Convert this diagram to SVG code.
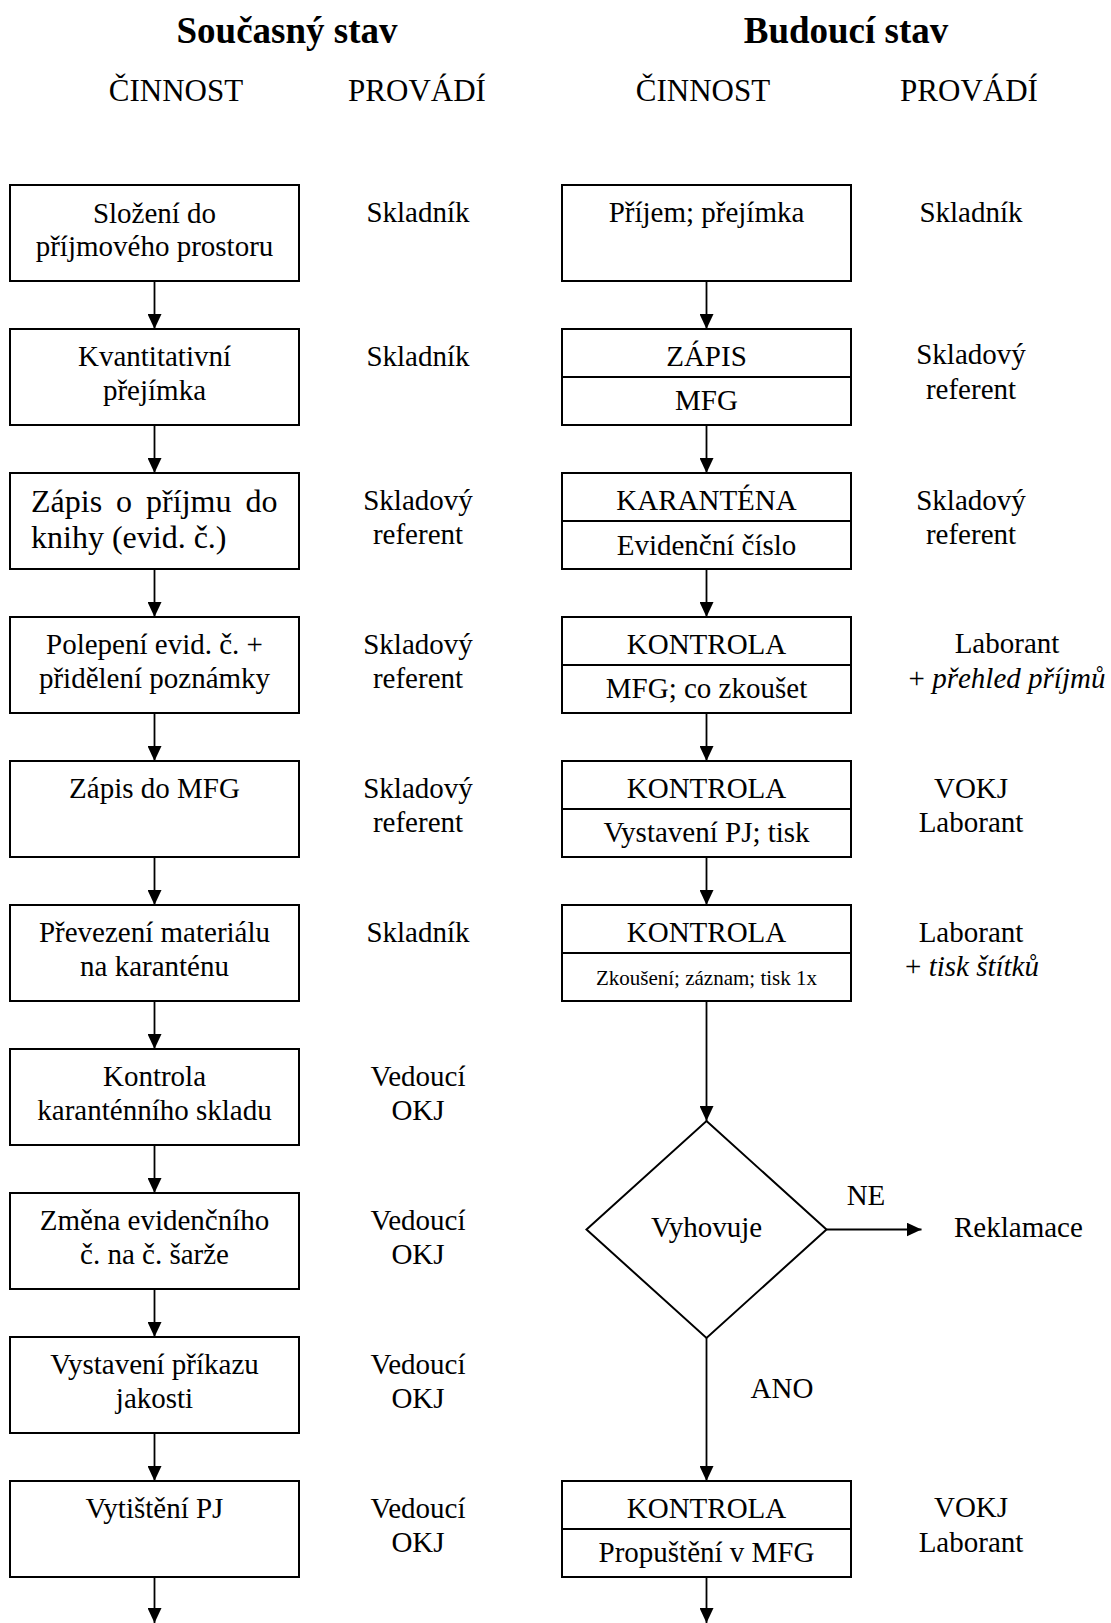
<svg xmlns="http://www.w3.org/2000/svg" width="1111" height="1623" viewBox="0 0 1111 1623">
  <style>
    text { font-family: "Liberation Serif", "Times New Roman", serif; font-size: 29px; fill: #000; }
    .c { text-anchor: middle; }
    .h1 { font-size: 37px; font-weight: bold; }
    .h2 { font-size: 31px; }
    .big { font-size: 32px; }
    .small { font-size: 21px; }
    .box { fill: #fff; stroke: #000; stroke-width: 2; }
    .div { stroke: #000; stroke-width: 2; }
    .link { fill: none; stroke: #000; stroke-width: 1.8; marker-end: url(#arrow); }
    .i { font-style: italic; }
  </style>
  <defs>
    <marker id="arrow" markerUnits="userSpaceOnUse" markerWidth="15" markerHeight="14" refX="15" refY="7" orient="auto">
      <path d="M0,0 L15,7 L0,14 z" fill="#000"/>
    </marker>
  </defs>
  <rect width="1111" height="1623" fill="#fff"/>

  <!-- column headings -->
  <g id="headings">
    <text class="c h1" x="287" y="43">Současný stav</text>
    <text class="c h1" x="846" y="43">Budoucí stav</text>
    <text class="c h2" x="176" y="101">ČINNOST</text>
    <text class="c h2" x="417" y="101">PROVÁDÍ</text>
    <text class="c h2" x="703" y="101">ČINNOST</text>
    <text class="c h2" x="969" y="101">PROVÁDÍ</text>
  </g>

  <!-- connectors -->
  <g id="connectors">
    <line class="link" x1="154.5" y1="281" x2="154.5" y2="329"/>
    <line class="link" x1="154.5" y1="425" x2="154.5" y2="473"/>
    <line class="link" x1="154.5" y1="569" x2="154.5" y2="617"/>
    <line class="link" x1="154.5" y1="713" x2="154.5" y2="761"/>
    <line class="link" x1="154.5" y1="857" x2="154.5" y2="905"/>
    <line class="link" x1="154.5" y1="1001" x2="154.5" y2="1049"/>
    <line class="link" x1="154.5" y1="1145" x2="154.5" y2="1193"/>
    <line class="link" x1="154.5" y1="1289" x2="154.5" y2="1337"/>
    <line class="link" x1="154.5" y1="1433" x2="154.5" y2="1481"/>
    <line class="link" x1="154.5" y1="1577" x2="154.5" y2="1623"/>

    <line class="link" x1="706.5" y1="281" x2="706.5" y2="329"/>
    <line class="link" x1="706.5" y1="425" x2="706.5" y2="473"/>
    <line class="link" x1="706.5" y1="569" x2="706.5" y2="617"/>
    <line class="link" x1="706.5" y1="713" x2="706.5" y2="761"/>
    <line class="link" x1="706.5" y1="857" x2="706.5" y2="905"/>
    <line class="link" x1="706.5" y1="1001" x2="706.5" y2="1121"/>
    <line class="link" x1="706.5" y1="1338" x2="706.5" y2="1481"/>
    <line class="link" x1="706.5" y1="1577" x2="706.5" y2="1623"/>
    <line class="link" x1="826.5" y1="1229.5" x2="921.5" y2="1229.5"/>
    <text class="c" x="866" y="1205">NE</text>
    <text class="c" x="782" y="1398">ANO</text>
  </g>

  <!-- current state: activities -->
  <g id="cur-1"><rect class="box" x="10" y="185" width="289" height="96"/>
    <text class="c" x="154.5" y="223">Složení do</text><text class="c" x="154.5" y="256">příjmového prostoru</text></g>
  <g id="cur-2"><rect class="box" x="10" y="329" width="289" height="96"/>
    <text class="c" x="154.5" y="366">Kvantitativní</text><text class="c" x="154.5" y="400">přejímka</text></g>
  <g id="cur-3"><rect class="box" x="10" y="473" width="289" height="96"/>
    <text class="big" x="31" y="512" word-spacing="6">Zápis o příjmu do</text><text class="big" x="31" y="548">knihy (evid. č.)</text></g>
  <g id="cur-4"><rect class="box" x="10" y="617" width="289" height="96"/>
    <text class="c" x="154.5" y="654">Polepení evid. č. +</text><text class="c" x="154.5" y="688">přidělení poznámky</text></g>
  <g id="cur-5"><rect class="box" x="10" y="761" width="289" height="96"/>
    <text class="c" x="154.5" y="798">Zápis do MFG</text></g>
  <g id="cur-6"><rect class="box" x="10" y="905" width="289" height="96"/>
    <text class="c" x="154.5" y="942">Převezení materiálu</text><text class="c" x="154.5" y="976">na karanténu</text></g>
  <g id="cur-7"><rect class="box" x="10" y="1049" width="289" height="96"/>
    <text class="c" x="154.5" y="1086">Kontrola</text><text class="c" x="154.5" y="1120">karanténního skladu</text></g>
  <g id="cur-8"><rect class="box" x="10" y="1193" width="289" height="96"/>
    <text class="c" x="154.5" y="1230">Změna evidenčního</text><text class="c" x="154.5" y="1264">č. na č. šarže</text></g>
  <g id="cur-9"><rect class="box" x="10" y="1337" width="289" height="96"/>
    <text class="c" x="154.5" y="1374">Vystavení příkazu</text><text class="c" x="154.5" y="1408">jakosti</text></g>
  <g id="cur-10"><rect class="box" x="10" y="1481" width="289" height="96"/>
    <text class="c" x="154.5" y="1518">Vytištění PJ</text></g>

  <!-- current state: performed by -->
  <g id="cur-roles">
    <text class="c" x="418" y="222">Skladník</text>
    <text class="c" x="418" y="366">Skladník</text>
    <text class="c" x="418" y="510">Skladový</text><text class="c" x="418" y="544">referent</text>
    <text class="c" x="418" y="654">Skladový</text><text class="c" x="418" y="688">referent</text>
    <text class="c" x="418" y="798">Skladový</text><text class="c" x="418" y="832">referent</text>
    <text class="c" x="418" y="942">Skladník</text>
    <text class="c" x="418" y="1086">Vedoucí</text><text class="c" x="418" y="1120">OKJ</text>
    <text class="c" x="418" y="1230">Vedoucí</text><text class="c" x="418" y="1264">OKJ</text>
    <text class="c" x="418" y="1374">Vedoucí</text><text class="c" x="418" y="1408">OKJ</text>
    <text class="c" x="418" y="1518">Vedoucí</text><text class="c" x="418" y="1552">OKJ</text>
  </g>

  <!-- future state: activities -->
  <g id="fut-1"><rect class="box" x="562" y="185" width="289" height="96"/>
    <text class="c" x="706.5" y="222">Příjem; přejímka</text></g>
  <g id="fut-2"><rect class="box" x="562" y="329" width="289" height="96"/>
    <line class="div" x1="562" y1="377" x2="851" y2="377"/>
    <text class="c" x="706.5" y="366">ZÁPIS</text><text class="c" x="706.5" y="410">MFG</text></g>
  <g id="fut-3"><rect class="box" x="562" y="473" width="289" height="96"/>
    <line class="div" x1="562" y1="521" x2="851" y2="521"/>
    <text class="c" x="706.5" y="510">KARANTÉNA</text><text class="c" x="706.5" y="555">Evidenční číslo</text></g>
  <g id="fut-4"><rect class="box" x="562" y="617" width="289" height="96"/>
    <line class="div" x1="562" y1="665" x2="851" y2="665"/>
    <text class="c" x="706.5" y="654">KONTROLA</text><text class="c" x="706.5" y="698">MFG; co zkoušet</text></g>
  <g id="fut-5"><rect class="box" x="562" y="761" width="289" height="96"/>
    <line class="div" x1="562" y1="809" x2="851" y2="809"/>
    <text class="c" x="706.5" y="798">KONTROLA</text><text class="c" x="706.5" y="842">Vystavení PJ; tisk</text></g>
  <g id="fut-6"><rect class="box" x="562" y="905" width="289" height="96"/>
    <line class="div" x1="562" y1="953" x2="851" y2="953"/>
    <text class="c" x="706.5" y="942">KONTROLA</text><text class="c small" x="706.5" y="985">Zkoušení; záznam; tisk 1x</text></g>
  <g id="fut-decision"><polygon class="box" points="706.5,1121 826.5,1229.5 706.5,1338 586.5,1229.5"/>
    <text class="c" x="706.5" y="1237">Vyhovuje</text></g>
  <g id="fut-reklamace"><text x="954" y="1237">Reklamace</text></g>
  <g id="fut-7"><rect class="box" x="562" y="1481" width="289" height="96"/>
    <line class="div" x1="562" y1="1529" x2="851" y2="1529"/>
    <text class="c" x="706.5" y="1518">KONTROLA</text><text class="c" x="706.5" y="1562">Propuštění v MFG</text></g>

  <!-- future state: performed by -->
  <g id="fut-roles">
    <text class="c" x="971" y="222">Skladník</text>
    <text class="c" x="971" y="364">Skladový</text><text class="c" x="971" y="399">referent</text>
    <text class="c" x="971" y="510">Skladový</text><text class="c" x="971" y="544">referent</text>
    <text class="c" x="1007" y="653">Laborant</text><text class="c" x="1007" y="688">+ <tspan class="i">přehled příjmů</tspan></text>
    <text class="c" x="971" y="798">VOKJ</text><text class="c" x="971" y="832">Laborant</text>
    <text class="c" x="971" y="942">Laborant</text><text class="c" x="972" y="976">+ <tspan class="i">tisk štítků</tspan></text>
    <text class="c" x="971" y="1517">VOKJ</text><text class="c" x="971" y="1552">Laborant</text>
  </g>
</svg>
